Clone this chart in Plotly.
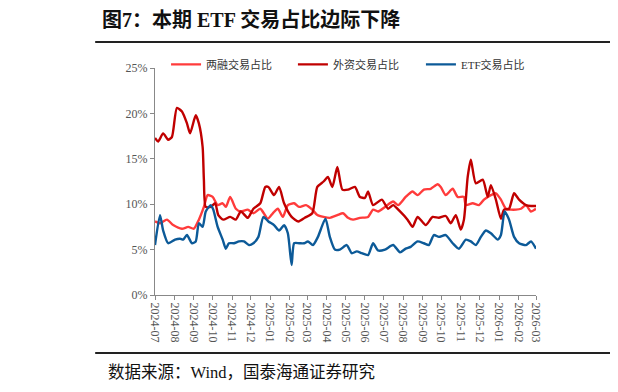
import plotly.graph_objects as go

# 两融交易占比
margin_dates = ["2024-07-01","2024-07-09","2024-07-20","2024-07-30","2024-08-13","2024-08-23","2024-09-01","2024-09-09",
    "2024-09-17","2024-09-23","2024-10-01","2024-10-09","2024-10-17","2024-10-22","2024-10-29","2024-11-07","2024-11-15",
    "2024-11-26","2024-12-05","2024-12-16","2024-12-28","2025-01-05","2025-01-13","2025-01-21","2025-01-29","2025-02-08",
    "2025-02-16","2025-02-27","2025-03-09","2025-03-17","2025-03-27","2025-04-06","2025-04-18","2025-04-27","2025-05-05",
    "2025-05-13","2025-05-24","2025-06-06","2025-06-14","2025-06-22","2025-07-03","2025-07-16","2025-07-24","2025-08-05",
    "2025-08-16","2025-08-24","2025-09-03","2025-09-14","2025-09-25","2025-09-30","2025-10-08","2025-10-19","2025-10-27",
    "2025-11-06","2025-11-09","2025-11-20","2025-11-30","2025-12-08","2025-12-19","2025-12-27","2026-01-04","2026-01-12",
    "2026-01-20","2026-01-28","2026-02-05","2026-02-13","2026-02-21","2026-03-01"]
margin_vals = [8.1,7.9,8.3,7.7,7.3,7.5,7.3,8.3,9.7,11.0,10.8,9.9,10.1,9.7,10.8,9.5,9.2,9.4,9.0,9.5,8.4,9.0,9.5,8.6,9.9,10.1,
    9.7,9.9,9.4,8.8,8.6,8.5,8.8,9.0,8.5,8.3,8.5,8.6,9.4,9.2,9.7,10.3,9.9,10.8,11.4,11.0,11.6,11.7,12.2,11.9,11.0,11.7,10.8,
    10.8,9.9,10.1,9.9,10.5,11.0,11.2,10.5,9.5,9.4,9.4,9.5,9.9,9.2,9.5]

# 外资交易占比
foreign_dates = ["2024-07-01","2024-07-06","2024-07-14","2024-07-22","2024-07-28","2024-08-05","2024-08-13","2024-08-21",
    "2024-08-26","2024-09-04","2024-09-09","2024-09-15","2024-09-17","2024-09-20","2024-09-28","2024-10-05","2024-10-10",
    "2024-10-18","2024-10-29","2024-11-07","2024-11-15","2024-11-26","2024-12-05","2024-12-16","2024-12-24","2024-12-29",
    "2025-01-07","2025-01-15","2025-01-23","2025-02-04","2025-02-15","2025-02-25","2025-03-09","2025-03-17","2025-03-27",
    "2025-04-03","2025-04-10","2025-04-18","2025-04-26","2025-05-05","2025-05-16","2025-05-24","2025-06-01","2025-06-06",
    "2025-06-14","2025-06-28","2025-07-08","2025-07-16","2025-07-27","2025-08-08","2025-08-16","2025-08-24","2025-09-06",
    "2025-09-17","2025-09-27","2025-10-08","2025-10-16","2025-10-24","2025-11-01","2025-11-06","2025-11-12","2025-11-17",
    "2025-11-25","2025-12-06","2025-12-14","2025-12-19","2025-12-27","2026-01-04","2026-01-09","2026-01-17","2026-01-25",
    "2026-02-02","2026-02-13","2026-02-21","2026-03-01"]
foreign_vals = [17.3,16.9,17.8,17.1,17.4,20.6,20.2,18.9,17.8,19.8,18.9,16.3,12.7,9.7,9.7,10.1,8.8,8.3,8.6,8.3,9.2,8.5,9.5,
    10.1,11.9,11.9,11.0,11.9,10.1,8.6,8.1,8.5,9.0,11.9,12.5,13.0,11.9,14.1,11.6,11.6,11.9,10.8,10.7,11.4,9.9,10.5,9.5,9.9,
    9.2,8.3,7.5,8.6,7.7,8.6,8.5,8.7,7.9,8.8,7.2,8.3,13.0,14.9,12.3,12.7,10.8,12.1,10.5,8.4,9.4,9.5,11.2,10.5,9.9,9.8,9.8]

# ETF交易占比
etf_dates = ["2024-07-01","2024-07-09","2024-07-14","2024-07-22","2024-08-02","2024-08-10","2024-08-15","2024-08-21",
    "2024-08-29","2024-09-04","2024-09-09","2024-09-15","2024-09-20","2024-09-28","2024-10-02","2024-10-09","2024-10-17",
    "2024-10-22","2024-10-27","2024-11-04","2024-11-12","2024-11-20","2024-11-28","2024-12-05","2024-12-13","2024-12-21",
    "2024-12-29","2025-01-07","2025-01-15","2025-01-23","2025-01-29","2025-02-04","2025-02-08","2025-02-16","2025-02-24",
    "2025-03-02","2025-03-10","2025-03-18","2025-03-30","2025-04-06","2025-04-14","2025-04-22","2025-05-03","2025-05-11",
    "2025-05-19","2025-05-27","2025-06-06","2025-06-14","2025-06-22","2025-07-03","2025-07-16","2025-07-27","2025-08-05",
    "2025-08-13","2025-08-24","2025-09-03","2025-09-11","2025-09-19","2025-09-27","2025-10-08","2025-10-19","2025-10-29",
    "2025-11-09","2025-11-17","2025-11-25","2025-12-03","2025-12-11","2025-12-19","2025-12-30","2026-01-04","2026-01-10",
    "2026-01-17","2026-01-25","2026-02-02","2026-02-13","2026-02-21","2026-03-01"]
etf_vals = [5.5,8.8,7.1,5.7,6.1,6.2,6.1,6.6,5.7,5.9,7.9,7.5,9.2,9.9,9.4,7.5,6.1,5.1,5.7,5.7,5.9,5.9,5.5,5.7,6.4,8.6,8.1,
    7.7,7.1,7.7,6.8,3.3,5.7,5.7,5.7,5.9,5.5,6.4,8.4,6.4,5.0,5.0,5.5,4.6,4.8,4.6,4.4,5.7,4.9,5.0,5.5,4.7,5.1,5.3,5.9,5.7,
    5.5,6.6,6.4,6.6,5.7,5.1,6.1,5.9,5.5,6.4,7.1,6.8,6.1,6.6,9.2,8.3,6.4,5.7,5.5,5.9,5.1]

series_names = ["两融交易占比", "外资交易占比", "ETF交易占比"]
series_colors = ["#FF3B3B", "#C00000", "#0C5A98"]
y_ticks = [0, 5, 10, 15, 20, 25]
y_tick_labels = ["0%", "5%", "10%", "15%", "20%", "25%"]

title_text = "图7：本期 ETF 交易占比边际下降"
source_text = "数据来源：Wind，国泰海通证券研究"

serif = "Liberation Serif, Times New Roman, serif"
cjk = "Noto Sans CJK SC"

legend_ids = ["legend", "legend2", "legend3"]
legend_x = [0.029, 0.362, 0.698]

fig = go.Figure()
for name, color, xs, ys, lg in zip(series_names, series_colors,
                                    [margin_dates, foreign_dates, etf_dates],
                                    [margin_vals, foreign_vals, etf_vals], legend_ids):
    fig.add_trace(go.Scatter(x=xs, y=ys, name=name, mode="lines", legend=lg,
                             line=dict(color=color, width=2.4, shape="spline", smoothing=0.6)))

legend_style = dict(orientation="h", y=1.08, xanchor="left", yanchor="top",
                    font=dict(family=serif + ", " + cjk, size=11, color="#333333"),
                    bgcolor="rgba(0,0,0,0)", itemwidth=30)

fig.update_layout(
    width=610, height=384,
    margin=dict(l=147, r=82, t=60, b=97),
    paper_bgcolor="white", plot_bgcolor="white",
    showlegend=True,
    legend=dict(x=legend_x[0], **legend_style),
    legend2=dict(x=legend_x[1], **legend_style),
    legend3=dict(x=legend_x[2], **legend_style),
    xaxis=dict(type="date", range=["2024-07-01", "2026-03-01"], dtick="M1", tickformat="%Y-%m",
               tick0="2024-07-01", tickangle=90, showgrid=False, showline=True, linecolor="#888888",
               linewidth=1, ticks="outside", ticklen=4, tickcolor="#888888",
               tickfont=dict(family=serif, size=12, color="#555555")),
    yaxis=dict(range=[0, 25], tickvals=y_ticks, ticktext=y_tick_labels, showgrid=False,
               showline=True, linecolor="#888888", linewidth=1, ticks="outside", ticklen=4,
               tickcolor="#888888", zeroline=False,
               tickfont=dict(family=serif, size=12, color="#555555")),
)

fig.add_annotation(text="<b>" + title_text + "</b>", xref="paper", yref="paper", x=-0.145, y=1.215,
                   xanchor="left", yanchor="middle", showarrow=False,
                   font=dict(family=serif + ", " + cjk, size=20, color="#111111"))
fig.add_annotation(text=source_text, xref="paper", yref="paper", x=-0.128, y=-0.34,
                   xanchor="left", yanchor="middle", showarrow=False,
                   font=dict(family=serif + ", " + cjk, size=16.5, color="#111111"))
fig.add_shape(type="line", xref="paper", yref="paper", x0=-0.157, x1=1.22, y0=1.1145, y1=1.1145,
              line=dict(color="#222222", width=2))
fig.add_shape(type="line", xref="paper", yref="paper", x0=-0.157, x1=1.22, y0=-0.2555, y1=-0.2555,
              line=dict(color="#222222", width=2))

fig.write_html("out.html")
